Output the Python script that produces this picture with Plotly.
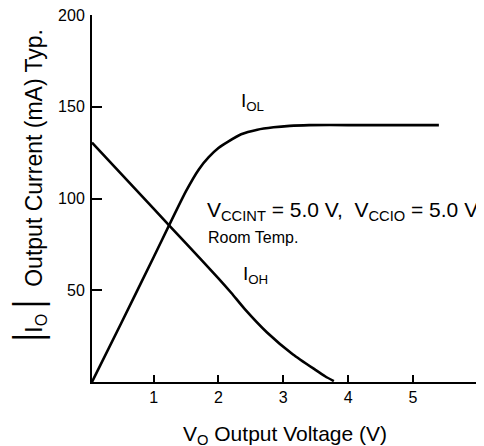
import plotly.graph_objects as go

# ---- data ----
v_ol = [0.05, 0.5, 1.0, 1.5, 1.7, 1.85, 2.0, 2.15, 2.35, 2.6, 2.85, 3.1, 3.4, 4.0, 5.0, 5.4]
i_ol = [0, 32, 68, 104, 116, 122.5, 127.5, 131, 135, 137.5, 138.8, 139.6, 140, 140, 140, 140]

v_oh = [0.05, 1.0, 1.5, 2.0, 2.2, 2.4, 2.75, 3.15, 3.5, 3.65, 3.78]
i_oh = [130.5, 94.5, 75.5, 56.5, 48.5, 40, 27, 15, 6.5, 3, 0.5]

x_ticks = [1, 2, 3, 4, 5]
y_ticks = [50, 100, 150, 200]

# ---- layout geometry (screen pixels; page body has an 8px margin) ----
W, H = 484, 446
OFF = 8
S_LEFT, S_RIGHT, S_TOP, S_BOTTOM = 92, 482, 15, 382   # plot area on screen
L = S_LEFT - OFF
T = S_TOP - OFF
R = W - (S_RIGHT - OFF)
B = H - (S_BOTTOM - OFF)
PW, PH = W - L - R, H - T - B


def px(sx):
    return (sx - OFF - L) / PW


def py(sy):
    return (H - B - (sy - OFF)) / PH


FONT = "Liberation Sans, Arial, Helvetica, sans-serif"
INK = "#000000"

fig = go.Figure()
fig.add_trace(go.Scatter(x=v_ol, y=i_ol, mode="lines",
                         line=dict(color=INK, width=2.6, shape="spline", smoothing=0.6),
                         showlegend=False, hoverinfo="skip", cliponaxis=False))
fig.add_trace(go.Scatter(x=v_oh, y=i_oh, mode="lines",
                         line=dict(color=INK, width=2.6, shape="spline", smoothing=0.6),
                         showlegend=False, hoverinfo="skip", cliponaxis=False))

fig.update_layout(
    template="none",
    width=W, height=H,
    margin=dict(l=L, r=R, t=T, b=B, pad=0, autoexpand=False),
    paper_bgcolor="white", plot_bgcolor="white",
    font=dict(family=FONT, color=INK, size=16),
    xaxis=dict(range=[0.05, 6.065], tickvals=x_ticks, ticktext=[str(t) for t in x_ticks],
               showline=True, linewidth=2, linecolor=INK, mirror=False,
               ticks="inside", ticklen=7, tickwidth=1.5, tickcolor=INK,
               showgrid=False, zeroline=False, tickfont=dict(size=16),
               automargin=False, ticklabelstandoff=0, ticklabeloverflow="allow"),
    yaxis=dict(range=[0, 200], tickvals=y_ticks, ticktext=[str(t) for t in y_ticks],
               showline=True, linewidth=2, linecolor=INK, mirror=False,
               ticks="inside", ticklen=10, tickwidth=1.5, tickcolor=INK,
               showgrid=False, zeroline=False, tickfont=dict(size=16),
               automargin=False, ticklabelstandoff=2, ticklabeloverflow="allow"),
)

BAR = "<span style='font-family:DejaVu Sans Mono; font-size:32px; letter-spacing:-5px'>\u2502</span>"

ann = [
    dict(text="I<sub>OL</sub>", x=px(239), y=py(102), xanchor="left", yanchor="middle",
         font=dict(size=19)),
    dict(text="I<sub>OH</sub>", x=px(241), y=py(275), xanchor="left", yanchor="middle",
         font=dict(size=19)),
    dict(text="V<sub>CCINT</sub> = 5.0 V,&nbsp;&nbsp;V<sub>CCIO</sub> = 5.0 V",
         x=px(205), y=py(211), xanchor="left", yanchor="middle", font=dict(size=21)),
    dict(text="Room Temp.", x=px(206), y=py(237), xanchor="left", yanchor="middle",
         font=dict(size=16)),
    dict(text="V<sub>O</sub> Output Voltage (V)", x=px(285), y=py(435),
         xanchor="center", yanchor="middle", font=dict(size=21)),
    dict(text=BAR + "I<sub>O</sub>" + BAR + "&nbsp;&nbsp;Output Current (mA) Typ.",
         x=px(30), y=py(188), xanchor="center", yanchor="middle", textangle=-90,
         font=dict(size=23)),
]
for a in ann:
    a.update(xref="paper", yref="paper", showarrow=False)
    fig.add_annotation(**a)

fig.write_html("out.html")
